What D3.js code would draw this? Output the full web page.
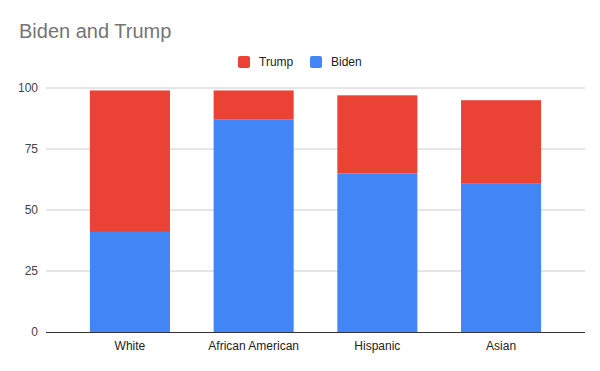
<!DOCTYPE html>
<html>
<head>
<meta charset="utf-8">
<script src="https://cdn.jsdelivr.net/npm/d3@7"></script>
<style>
  body { margin: 0; background: #fff; }
  text { font-family: Arial, "Liberation Sans", sans-serif; }
</style>
</head>
<body>
<div id="canvas"></div>
<script>
const categories = ["White", "African American", "Hispanic", "Asian"];
const biden = [41, 87, 65, 61];
const trump = [58, 12, 32, 34];
const yTicks = [0, 25, 50, 75, 100];
const seriesNames = ["Trump", "Biden"];
const colors = { Trump: "#ea4335", Biden: "#4285f4" };

const width = 600;
const height = 371;
const margin = { top: 88, left: 46, bottom: 39, right: 15 };
const iwidth = width - margin.left - margin.right;
const iheight = height - margin.top - margin.bottom;

const svg = d3.select("#canvas").append("svg")
    .attr("width", width)
    .attr("height", height);

svg.append("text")
    .attr("x", 19)
    .attr("y", 38)
    .style("font-size", "20px")
    .style("fill", "#757575")
    .text("Biden and Trump");

// legend
const legend = svg.append("g").attr("transform", "translate(238,56)");
const legendX = [0, 72];
seriesNames.forEach((name, i) => {
    const lg = legend.append("g").attr("transform", `translate(${legendX[i]},0)`);
    lg.append("rect")
        .attr("width", 12).attr("height", 12)
        .attr("rx", 2)
        .style("fill", colors[name]);
    lg.append("text")
        .attr("x", 21).attr("y", 10)
        .style("font-size", "12px")
        .style("fill", "#222")
        .text(name);
});

const g = svg.append("g").attr("transform", `translate(${margin.left},${margin.top})`);

const y = d3.scaleLinear()
    .domain([0, 100])
    .range([iheight, 0]);

const x = d3.scaleBand()
    .domain(categories)
    .range([0, iwidth])
    .paddingInner(0.353)
    .paddingOuter(0.355);

// gridlines
g.append("g")
    .selectAll("line")
    .data(yTicks.filter(t => t > 0))
    .enter().append("line")
    .attr("x1", 0).attr("x2", iwidth)
    .attr("y1", d => y(d)).attr("y2", d => y(d))
    .style("stroke", "#cccccc")
    .style("stroke-width", 1);

const data = categories.map((c, i) => ({ name: c, Biden: biden[i], Trump: trump[i] }));
const stacked = d3.stack().keys(["Biden", "Trump"])(data);

g.selectAll("g.series")
    .data(stacked)
    .enter().append("g")
    .attr("class", "series")
    .style("fill", d => colors[d.key])
    .selectAll("rect")
    .data(d => d)
    .enter().append("rect")
    .attr("x", d => x(d.data.name))
    .attr("y", d => y(d[1]))
    .attr("height", d => y(d[0]) - y(d[1]))
    .attr("width", x.bandwidth());

// y axis labels
const yAxis = g.append("g")
    .call(d3.axisLeft(y).tickValues(yTicks).tickSize(0).tickPadding(8));
yAxis.select(".domain").remove();
yAxis.selectAll("text")
    .style("font-size", "12px")
    .style("fill", "#444")
    .style("font-family", "Arial, 'Liberation Sans', sans-serif");

// x axis
const xAxis = g.append("g")
    .attr("transform", `translate(0,${iheight})`)
    .call(d3.axisBottom(x).tickSize(0).tickPadding(9));
xAxis.select(".domain").remove();
xAxis.selectAll("text")
    .style("font-size", "12px")
    .style("fill", "#222")
    .style("font-family", "Arial, 'Liberation Sans', sans-serif");

g.append("line")
    .attr("x1", 0).attr("x2", iwidth)
    .attr("y1", iheight + 0.5).attr("y2", iheight + 0.5)
    .style("stroke", "#333")
    .style("stroke-width", 1);
</script>
</body>
</html>
